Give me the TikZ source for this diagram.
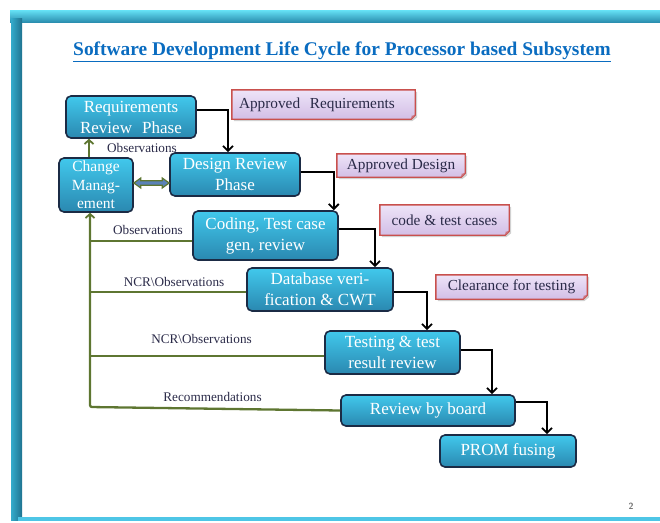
\documentclass[tikz,border=0pt]{standalone}
\usepackage{fontspec}
\setmainfont{Liberation Serif}
\usetikzlibrary{arrows.meta,calc,backgrounds}
\definecolor{boxtop}{HTML}{41C8EC}
\definecolor{boxbot}{HTML}{2A88B0}
\definecolor{boxedge}{HTML}{1B2B45}
\definecolor{lbltop}{HTML}{EEE4F8}
\definecolor{lblbot}{HTML}{D2BEE6}
\definecolor{lbledge}{HTML}{C9504D}
\definecolor{lbltext}{HTML}{2A2A48}
\definecolor{grn}{HTML}{5E7631}
\definecolor{dblfill}{HTML}{5A82B8}
\definecolor{titleblue}{HTML}{0A6CC0}
\definecolor{bandtop}{HTML}{66E2F6}
\definecolor{bandbot}{HTML}{2B8FB0}
\definecolor{bandleft}{HTML}{34ABCB}
\definecolor{banddark}{HTML}{1F7390}
\definecolor{bottomline}{HTML}{4EC6E6}
\begin{document}
\begin{tikzpicture}[x=1pt,y=-1pt,
  box/.style={rectangle, rounded corners=5pt, draw=boxedge, line width=1.6pt,
    top color=boxtop, bottom color=boxbot, text=white, align=center,
    font=\fontsize{17}{21}\selectfont, inner sep=0pt},
  lbl/.style={text=lbltext, font=\fontsize{15.3}{18}\selectfont, inner sep=0pt, align=center},
  small/.style={text=lbltext, font=\fontsize{13.2}{15}\selectfont, inner sep=0pt},
  flow/.style={draw=black, line width=2pt, -{Straight Barb[length=5pt,width=10pt,line width=1.8pt]}},
  grnline/.style={draw=grn, line width=2.3pt},
  grnarrow/.style={draw=grn, line width=2.3pt, -{Straight Barb[length=4pt,width=9pt,line width=1.8pt]}},
  lblshape/.style={top color=lbltop, bottom color=lblbot, draw=lbledge, line width=1.4pt}
]
\useasboundingbox (0,0) rectangle (660,522);
% frame
\shade[top color=bandtop, bottom color=bandbot] (10,10) rectangle (660,22);
\shade[left color=bandleft, right color=banddark] (11,18) rectangle (22,520);
\fill[bottomline] (18,517) rectangle (660,521);

% title
\node[font=\bfseries\fontsize{19.4}{22}\selectfont, text=titleblue, inner sep=0pt] (title) at (342,51.5)
  {\underline{Software Development Life Cycle for Processor based Subsystem}};

% process boxes
\node[box, minimum width=130pt, minimum height=42pt] (req) at (131,117) {Requirements\\Review\hspace{0.35em} Phase};
\node[box, minimum width=130pt, minimum height=43pt] (design) at (235,174.5) {Design Review\\Phase};
\node[box, minimum width=74pt, minimum height=54pt, font=\fontsize{15.5}{18.5}\selectfont] (cm) at (96,185) {Change\\Manag-\\ement};
\node[box, minimum width=145pt, minimum height=49pt] (coding) at (265.5,235.5) {Coding, Test case\\gen, review};
\node[box, minimum width=146pt, minimum height=43pt] (db) at (320,289.5) {Database veri-\\fication \& CWT};
\node[box, minimum width=135pt, minimum height=43pt] (test) at (392.5,352.5) {Testing \& test\\result review};
\node[box, minimum width=174pt, minimum height=31pt] (board) at (428,410.5) {Review by board};
\node[box, minimum width=136pt, minimum height=32pt] (prom) at (508,451) {PROM fusing};

% output labels
\node[lbl, text width=169pt, inner xsep=7pt, align=left, minimum height=29pt] (la) at (323.5,104.5) {Approved\hspace{0.3em} Requirements};
\node[lbl, minimum width=128pt, minimum height=23pt] (lb) at (401,165.5) {Approved Design};
\node[lbl, minimum width=129pt, minimum height=30pt] (lc) at (444.5,220) {code \& test cases};
\node[lbl, minimum width=151pt, minimum height=24pt] (ld) at (511.5,287) {Clearance for testing};
\begin{scope}[on background layer]
\foreach \n in {la,lb,lc,ld}{
  \fill[black!18] ([xshift=2pt,yshift=-2pt]\n.north west) -- ([xshift=2pt,yshift=-2pt]\n.north east)
     -- ([xshift=2pt,yshift=2pt]\n.south east) -- ([xshift=-3pt,yshift=-2pt]\n.south east)
     -- ([xshift=2pt,yshift=-2pt]\n.south west) -- cycle;
  \path[lblshape] (\n.north west) -- (\n.north east) -- ([yshift=4pt]\n.south east)
     -- ([xshift=-4pt]\n.south east) -- (\n.south west) -- cycle;
  \fill[lbledge!70!lblbot] ([yshift=4pt]\n.south east) -- ([xshift=-3.5pt,yshift=3.5pt]\n.south east) -- ([xshift=-4pt]\n.south east) -- cycle;
}
\end{scope}

% black flow arrows
\draw[flow] ([yshift=7pt]req.east) -| ([xshift=-7pt]design.north);
\draw[flow] ([yshift=2.5pt]design.east) -| ([xshift=-5pt]coding.north east);
\draw[flow] ([yshift=6.5pt]coding.east) -| ([xshift=55pt]db.north);
\draw[flow] ([yshift=-2.5pt]db.east) -| ([xshift=34.5pt]test.north);
\draw[flow] ([yshift=2.5pt]test.east) -| ([xshift=64pt]board.north);
\draw[flow] ([yshift=8.5pt]board.east) -| ([xshift=39pt]prom.north);

% green feedback lines
\coordinate (corner) at (90,407);
\draw[grnarrow, rounded corners=2pt] (board.west) -- (corner) -- (corner |- cm.south);
\draw[grnline] ([yshift=-5.5pt]coding.west) -- ([yshift=-5.5pt]coding.west -| corner);
\draw[grnline] ([yshift=-2.5pt]db.west) -- ([yshift=-2.5pt]db.west -| corner);
\draw[grnline] ([yshift=-3.5pt]test.west) -- ([yshift=-3.5pt]test.west -| corner);
\draw[grnarrow] ([xshift=-7pt]cm.north) -- ([xshift=-7pt]cm.north |- req.south);

% double arrow between change management and design review
\coordinate (da1) at ([yshift=2pt]cm.east);
\coordinate (da2) at ([yshift=2pt]cm.east -| design.west);
\draw[draw=grn, fill=dblfill, line width=1.2pt, line join=miter]
  (da1) -- ($(da1)+(7,-5)$) -- ($(da1)+(7,-2.2)$) -- ($(da2)+(-7,-2.2)$) -- ($(da2)+(-7,-5)$)
  -- (da2) -- ($(da2)+(-7,5)$) -- ($(da2)+(-7,2.2)$) -- ($(da1)+(7,2.2)$) -- ($(da1)+(7,5)$) -- cycle;

% feedback labels
\node[small] (o1) at (142,148) {Observations};
\node[small] (o2) at (148,230) {Observations};
\node[small] (o3) at (174,282) {NCR\textbackslash Observations};
\node[small] (o4) at (201.5,339) {NCR\textbackslash Observations};
\node[small] (o5) at (212.5,397) {Recommendations};

% page number
\node[text=black!55, font=\sffamily\bfseries\fontsize{9}{10}\selectfont, inner sep=0pt] (pg) at (631,506) {2};
\end{tikzpicture}
\end{document}
